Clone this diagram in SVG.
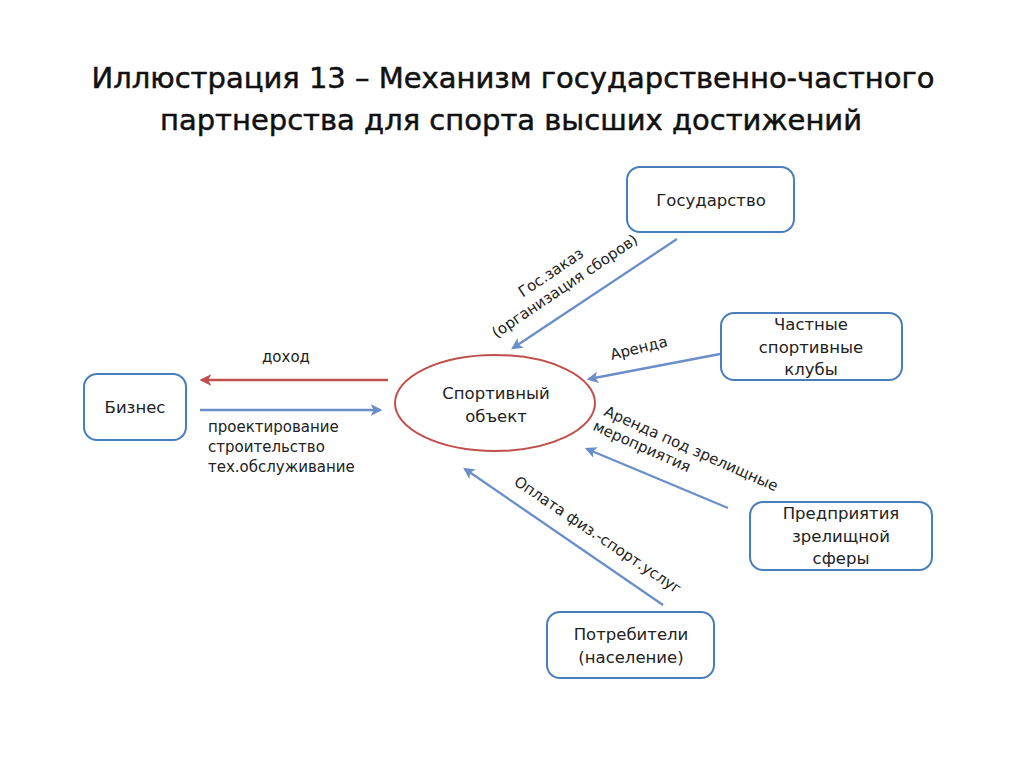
<svg xmlns="http://www.w3.org/2000/svg" width="1024" height="768" viewBox="0 0 1024 768">
<defs>
<style>
.title{font-family:"DejaVu Sans","Liberation Sans",sans-serif;font-size:29px;fill:#111;stroke:#111;stroke-width:0.5;text-anchor:middle}
.node rect{fill:#fff;stroke:#4a7ebb;stroke-width:2}
.nt{font-family:"DejaVu Sans","Liberation Sans",sans-serif;font-size:16.5px;fill:#222;text-anchor:middle}
.lb{font-family:"DejaVu Sans","Liberation Sans",sans-serif;font-size:15px;fill:#222}
.blue{stroke:#6a8fc8;stroke-width:2.3;fill:none;marker-end:url(#ab)}
.red{stroke:#c0504d;stroke-width:2.3;fill:none;marker-end:url(#ar)}
</style>
<marker id="ab" viewBox="0 0 10 10" refX="8" refY="5" markerWidth="5" markerHeight="5" orient="auto" markerUnits="strokeWidth">
<path d="M0,0 L10,5 L0,10 L2.5,5 Z" fill="#6a8fc8"/>
</marker>
<marker id="ar" viewBox="0 0 10 10" refX="8" refY="5" markerWidth="5" markerHeight="5" orient="auto" markerUnits="strokeWidth">
<path d="M0,0 L10,5 L0,10 L2.5,5 Z" fill="#c0504d"/>
</marker>
</defs>
<rect width="1024" height="768" fill="#fff"/>
<g id="title">
<text class="title" x="513" y="88">Иллюстрация 13 – Механизм государственно-частного</text>
<text class="title" x="511" y="130">партнерства для спорта высших достижений</text>
</g>
<g id="connectors">
<line class="blue" x1="677" y1="239" x2="513" y2="348"/>
<line class="blue" x1="720" y1="354" x2="589" y2="379"/>
<line class="blue" x1="728" y1="508" x2="587" y2="449"/>
<line class="blue" x1="663" y1="605" x2="465" y2="469"/>
<line class="red" x1="388" y1="380" x2="202" y2="380"/>
<line class="blue" x1="200" y1="410" x2="380" y2="410"/>
<text class="lb" x="286" y="362" text-anchor="middle">доход</text>
<text class="lb" x="208" y="432">проектирование</text>
<text class="lb" x="208" y="452">строительство</text>
<text class="lb" x="208" y="472">тех.обслуживание</text>
<g transform="translate(562,282) rotate(-34)">
<text class="lb" x="-4" y="-9" text-anchor="middle">Гос.заказ</text>
<text class="lb" x="0" y="10" text-anchor="middle">(организация сборов)</text>
</g>
<text class="lb" transform="translate(640,353) rotate(-14)" text-anchor="middle">Аренда</text>
<g transform="translate(603,415) rotate(24)">
<text class="lb" x="0" y="0">Аренда под зрелищные</text>
<text class="lb" x="-4" y="18">мероприятия</text>
</g>
<text class="lb" transform="translate(513,484) rotate(34)">Оплата физ.-спорт.услуг</text>
</g>
<g id="sport" class="node">
<ellipse cx="495" cy="403" rx="100" ry="48" fill="#fff" stroke="#c0504d" stroke-width="2"/>
<text class="nt" x="496" y="399">Спортивный</text>
<text class="nt" x="496" y="422">объект</text>
</g>
<g id="gos" class="node">
<rect x="627" y="167" width="167" height="65" rx="13"/>
<text class="nt" x="711" y="206">Государство</text>
</g>
<g id="clubs" class="node">
<rect x="721" y="313" width="181" height="67" rx="13"/>
<text class="nt" x="811" y="330">Частные</text>
<text class="nt" x="811" y="353">спортивные</text>
<text class="nt" x="811" y="375">клубы</text>
</g>
<g id="biz" class="node">
<rect x="84" y="374" width="102" height="66" rx="13"/>
<text class="nt" x="135" y="413">Бизнес</text>
</g>
<g id="ent" class="node">
<rect x="750" y="502" width="182" height="68" rx="13"/>
<text class="nt" x="841" y="519">Предприятия</text>
<text class="nt" x="841" y="542">зрелищной</text>
<text class="nt" x="841" y="564">сферы</text>
</g>
<g id="cons" class="node">
<rect x="547" y="612" width="167" height="66" rx="13"/>
<text class="nt" x="631" y="640">Потребители</text>
<text class="nt" x="631" y="663">(население)</text>
</g>
</svg>
